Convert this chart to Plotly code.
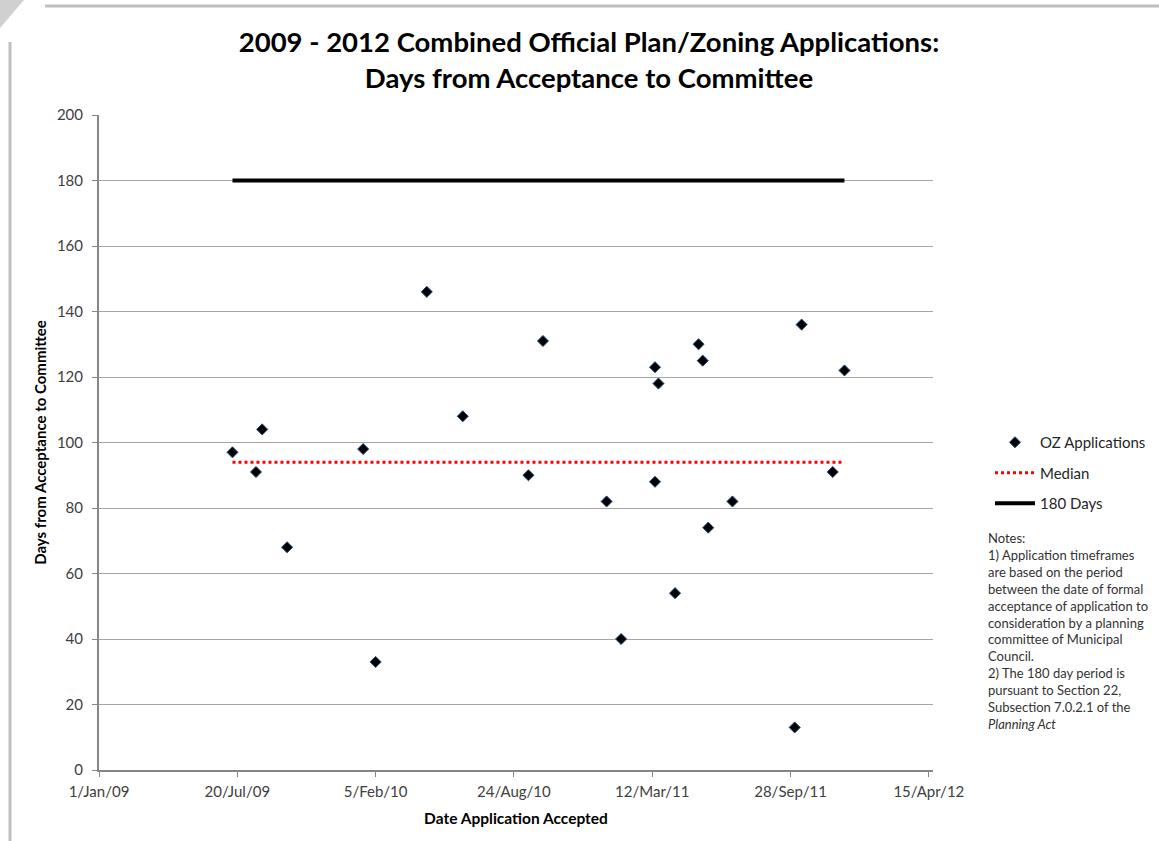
import plotly.graph_objects as go

# ---------------- data ----------------
accepted_dates = [
    "2009-07-13", "2009-08-16", "2009-08-25", "2009-09-30",
    "2010-01-18", "2010-02-05", "2010-04-20", "2010-06-11",
    "2010-09-14", "2010-10-05", "2011-01-05", "2011-01-26",
    "2011-03-16", "2011-03-21", "2011-03-16", "2011-04-14",
    "2011-05-18", "2011-05-24", "2011-06-01", "2011-07-06",
    "2011-10-04", "2011-10-14", "2011-11-28", "2011-12-15",
]
days_to_committee = [
    97, 91, 104, 68,
    98, 33, 146, 108,
    90, 131, 82, 40,
    123, 118, 88, 54,
    130, 125, 74, 82,
    13, 136, 91, 122,
]
median_days = [94, 94]
limit_days = [180, 180]
line_dates = ["2009-07-13", "2011-12-15"]

tick_dates = ["2009-01-01", "2009-07-20", "2010-02-05", "2010-08-24",
              "2011-03-12", "2011-09-28", "2012-04-15"]
tick_labels = ["1/Jan/09", "20/Jul/09", "5/Feb/10", "24/Aug/10",
               "12/Mar/11", "28/Sep/11", "15/Apr/12"]
y_ticks = [0, 20, 40, 60, 80, 100, 120, 140, 160, 180, 200]

title_text = ("2009 - 2012 Combined Official Plan/Zoning Applications:<br>"
              "Days from Acceptance to Committee")
notes_lines = [
    "Notes:",
    "1) Application timeframes",
    "are based on the period",
    "between the date of formal",
    "acceptance of application to",
    "consideration by a planning",
    "committee of Municipal",
    "Council.",
    "2) The 180 day period is",
    "pursuant to Section 22,",
    "Subsection 7.0.2.1 of the",
    "<i>Planning Act</i>",
]

# ---------------- layout geometry ----------------
W, H = 1159, 841
L, R, T, B = 99, 226, 115, 71
PW, PH = W - L - R, H - T - B
FONT = "Lato, 'Open Sans', sans-serif"


def px(x):
    return (x - L) / PW


def py(y):
    return (H - B - y) / PH


fig = go.Figure()

fig.add_trace(go.Scatter(
    x=accepted_dates, y=days_to_committee, mode="markers",
    name="OZ Applications", legendgroup="a",
    marker=dict(symbol="diamond", size=8.5, color="black",
                line=dict(color="#1F497D", width=1)),
))
fig.add_trace(go.Scatter(
    x=line_dates, y=median_days, mode="lines",
    name="Median", legendgroup="b",
    line=dict(color="#FF0000", width=3, dash="dot"),
))
fig.add_trace(go.Scatter(
    x=line_dates, y=limit_days, mode="lines",
    name="180 Days", legendgroup="c",
    line=dict(color="black", width=4),
))

fig.update_layout(
    width=W, height=H,
    margin=dict(l=L, r=R, t=T, b=B, autoexpand=False),
    paper_bgcolor="white", plot_bgcolor="white",
    font=dict(family=FONT, color="#262626"),
    title=dict(text="<b>" + title_text + "</b>", x=589 / W, xanchor="center",
               y=1 - 52 / H, yanchor="top",
               font=dict(family=FONT, size=27.5, color="black")),
    showlegend=True,
    legend=dict(x=px(990), xanchor="left", y=py(426), yanchor="top",
                font=dict(family=FONT, size=15, color="#262626"),
                tracegroupgap=8, itemwidth=40, bgcolor="rgba(0,0,0,0)"),
    xaxis=dict(
        type="date", range=["2009-01-01", "2012-04-21"],
        tickvals=tick_dates, ticktext=tick_labels,
        showgrid=False, zeroline=False,
        showline=True, linecolor="#868686", linewidth=2,
        ticks="outside", ticklen=5, tickcolor="#868686", tickwidth=1,
        tickfont=dict(family=FONT, size=15, color="#404040"),
        ticklabelstandoff=2,
        title=dict(text="<b>Date Application Accepted</b>", standoff=14,
                   font=dict(family=FONT, size=15.5, color="black")),
    ),
    yaxis=dict(
        range=[0, 200], tickvals=y_ticks,
        showgrid=True, gridcolor="#A6A6A6", gridwidth=1,
        zeroline=False,
        showline=True, linecolor="#868686", linewidth=2,
        ticks="outside", ticklen=5, tickcolor="#868686", tickwidth=1,
        tickfont=dict(family=FONT, size=15, color="#404040"),
        ticklabelstandoff=6,
        title=dict(text="<b>Days from Acceptance to Committee</b>", standoff=7,
                   font=dict(family=FONT, size=15, color="black")),
    ),
    annotations=[dict(
        text="<br>".join(notes_lines), xref="paper", yref="paper",
        x=px(986), y=py(528), xanchor="left", yanchor="top", align="left",
        showarrow=False, font=dict(family=FONT, size=13, color="#333333"),
    )],
    shapes=[
        dict(type="line", xref="paper", yref="paper",
             x0=px(45), x1=px(W), y0=py(6), y1=py(6),
             line=dict(color="#BFBFBF", width=3)),
        dict(type="line", xref="paper", yref="paper",
             x0=px(10), x1=px(10), y0=py(42), y1=py(H),
             line=dict(color="#BFBFBF", width=3)),
        dict(type="path", xref="paper", yref="paper",
             path=f"M {px(0)},{py(0)} L {px(24)},{py(0)} L {px(0)},{py(28)} Z",
             fillcolor="#D0D0D0", line=dict(width=0)),
    ],
)

fig.write_html("out.html",
               config={"displayModeBar": False},
               post_script="document.body.style.margin='0px';")
